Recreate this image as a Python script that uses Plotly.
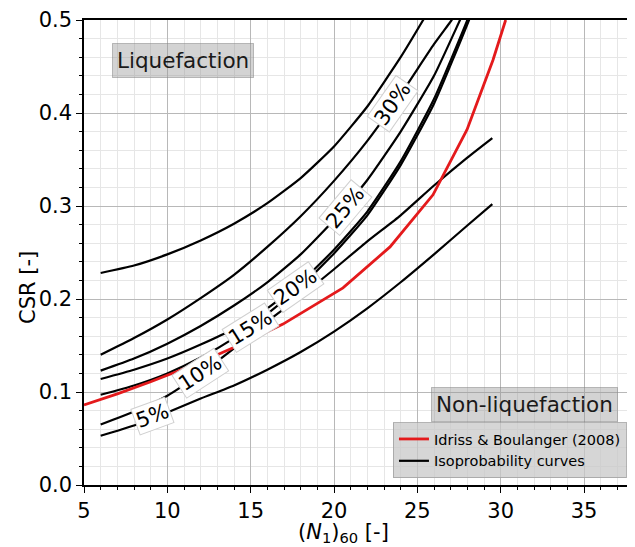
import plotly.graph_objects as go

# ---- data ----
n_red = [5, 7, 9, 11, 13, 15, 16.94, 20.54, 23.36, 25.94, 27.98, 29.54, 30.3]
csr_red = [0.086, 0.098, 0.111, 0.125, 0.140, 0.156, 0.173, 0.212, 0.256, 0.312, 0.382, 0.457, 0.50]

n_low = [6, 8, 10, 12, 14, 16, 18, 20, 22, 24, 26, 28, 29.5]
csr_05 = [0.053, 0.064, 0.078, 0.093, 0.107, 0.124, 0.143, 0.165, 0.190, 0.218, 0.248, 0.279, 0.302]
csr_10 = [0.065, 0.079, 0.096, 0.120, 0.147, 0.176, 0.203, 0.232, 0.262, 0.290, 0.322, 0.352, 0.373]

n_15 = [6, 8, 10, 12, 14, 16, 18, 20, 22, 24, 26, 28.1, 28.5]
csr_15 = [0.097, 0.107, 0.120, 0.137, 0.158, 0.184, 0.214, 0.249, 0.290, 0.344, 0.410, 0.500, 0.520]

n_20 = [6, 8, 10, 12, 14, 16, 18, 20, 22, 24, 26, 28.0, 28.4]
csr_20 = [0.114, 0.124, 0.136, 0.151, 0.168, 0.190, 0.218, 0.253, 0.294, 0.348, 0.415, 0.500, 0.520]

n_25 = [6, 8, 10, 12, 14, 16, 18, 20, 22, 24, 26, 27.56, 28]
csr_25 = [0.123, 0.136, 0.152, 0.171, 0.193, 0.218, 0.248, 0.285, 0.328, 0.380, 0.440, 0.500, 0.517]

n_30 = [6, 8, 10, 12, 14, 16, 18, 20, 22, 24, 26, 27.06, 27.5]
csr_30 = [0.140, 0.158, 0.178, 0.201, 0.226, 0.256, 0.289, 0.327, 0.370, 0.420, 0.474, 0.500, 0.512]

n_top = [6, 8, 10, 12, 14, 16, 18, 20, 22, 24, 25.35, 26]
csr_top = [0.228, 0.236, 0.248, 0.263, 0.281, 0.303, 0.330, 0.364, 0.407, 0.460, 0.500, 0.520]

label_text = ["5%", "10%", "15%", "20%", "25%", "30%"]
label_n = [9.1, 12.0, 14.96, 17.7, 20.66, 23.5]
label_csr = [0.074, 0.120, 0.169, 0.213, 0.298, 0.410]
label_angle = [-20, -33, -32, -35, -50, -55]

x_ticks = [5, 10, 15, 20, 25, 30, 35]
y_ticks = [0.0, 0.1, 0.2, 0.3, 0.4, 0.5]

FONT = "DejaVu Sans"

fig = go.Figure()

curves = [(n_low, csr_05), (n_low, csr_10), (n_15, csr_15), (n_20, csr_20),
          (n_25, csr_25), (n_30, csr_30), (n_top, csr_top)]
for i, (nx, cy) in enumerate(curves):
    fig.add_trace(go.Scatter(
        x=nx, y=cy, mode="lines",
        line=dict(color="black", width=2.2, shape="spline", smoothing=0.5),
        name="Isoprobability curves", legendgroup="iso",
        showlegend=(i == 0), legendrank=2, hoverinfo="skip"))

fig.add_trace(go.Scatter(
    x=n_red, y=csr_red, mode="lines",
    line=dict(color="#e41a1c", width=2.8),
    name="Idriss & Boulanger (2008)", legendrank=1, hoverinfo="skip"))

for t, xn, yc, ang in zip(label_text, label_n, label_csr, label_angle):
    fig.add_annotation(x=xn, y=yc, xref="x", yref="y", text=t, showarrow=False,
                       xanchor="center", yanchor="middle",
                       textangle=ang, font=dict(family=FONT, size=21, color="black"),
                       bgcolor="white", bordercolor="#d0d0d0", borderwidth=1, borderpad=1)

box_bg = "rgba(150,150,150,0.42)"
box_line = "rgba(130,130,130,0.5)"
fig.add_annotation(x=0.182, y=0.912, xref="paper", yref="paper", text="Liquefaction",
                   xanchor="center", yanchor="middle",
                   showarrow=False, font=dict(family=FONT, size=21.5, color="#1a1a1a"),
                   bgcolor=box_bg, bordercolor=box_line, borderwidth=1, borderpad=4)
fig.add_annotation(x=0.812, y=0.174, xref="paper", yref="paper", text="Non-liquefaction",
                   xanchor="center", yanchor="middle",
                   showarrow=False, font=dict(family=FONT, size=21.5, color="#1a1a1a"),
                   bgcolor=box_bg, bordercolor=box_line, borderwidth=1, borderpad=4)

# axis titles as annotations (fixed positions)
fig.add_annotation(x=0.477, y=-0.104, xref="paper", yref="paper",
                   text="(<i>N</i><sub>1</sub>)<sub>60</sub> [-]", showarrow=False,
                   xanchor="center", yanchor="middle",
                   font=dict(family=FONT, size=21, color="black"))
fig.add_annotation(x=-0.103, y=0.424, xref="paper", yref="paper",
                   text="CSR [-]", showarrow=False, textangle=-90,
                   xanchor="center", yanchor="middle",
                   font=dict(family=FONT, size=21, color="black"))

# the page body adds an 8px offset; figure sized so it fits without being rescaled
fig.update_layout(
    width=619, height=539,
    margin=dict(l=76, r=0, t=12, b=62),
    paper_bgcolor="white", plot_bgcolor="white",
    font=dict(family=FONT, size=21, color="black"),
    showlegend=True,
    legend=dict(x=0.569, y=0.015, xanchor="left", yanchor="bottom",
                bgcolor="rgba(200,200,200,0.75)", bordercolor="rgba(160,160,160,0.8)",
                borderwidth=1, font=dict(family=FONT, size=14.5, color="black"),
                itemwidth=30, tracegroupgap=0),
)

fig.update_xaxes(
    range=[5, 37.58], tickvals=x_ticks, ticks="outside", ticklen=6, tickwidth=1.2,
    tickcolor="black", showline=True, linecolor="black", linewidth=1.5, mirror=True,
    showgrid=True, gridcolor="#b8b8b8", gridwidth=1, zeroline=False, automargin=False,
    minor=dict(dtick=1, showgrid=True, gridcolor="#e6e6e6", ticks="outside",
               ticklen=3, tickcolor="black"),
    tickfont=dict(size=21),
)
fig.update_yaxes(
    range=[0, 0.5], tickvals=y_ticks, tickformat=".1f", ticks="outside", ticklen=6,
    tickwidth=1.2, tickcolor="black", showline=True, linecolor="black", linewidth=1.5,
    mirror=False, showgrid=True, gridcolor="#b8b8b8", gridwidth=1, zeroline=False,
    automargin=False,
    minor=dict(dtick=0.02, showgrid=True, gridcolor="#e6e6e6", ticks="outside",
               ticklen=3, tickcolor="black"),
    tickfont=dict(size=21),
)

fig.write_html("out.html")
